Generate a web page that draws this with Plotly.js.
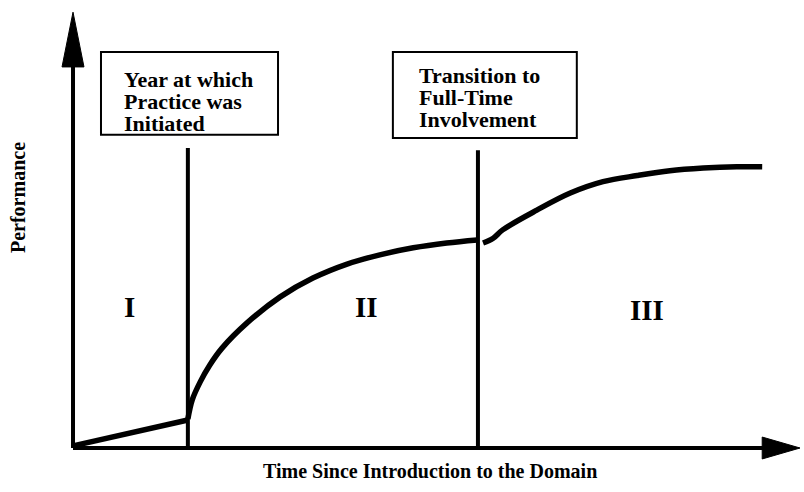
<!DOCTYPE html>
<html>
<head>
<meta charset="utf-8">
<script src="https://cdn.plot.ly/plotly-3.0.1.min.js"></script>
<style>html,body{margin:0;padding:0;background:#fff}#chart{width:804px;height:492px}</style>
</head>
<body>
<div id="chart"></div>
<script>
// Phase I: before practice initiated
var timeI = [0, 1.58];
var perfI = [0.05, 0.64];
// Phase II: practice until full-time involvement
var timeII = [1.58, 1.64, 1.75, 1.88, 2.05, 2.39, 2.85, 3.30, 3.77, 4.22, 4.68, 5.14, 5.56];
var perfII = [0.66, 1.10, 1.51, 1.89, 2.28, 2.85, 3.45, 3.88, 4.20, 4.41, 4.57, 4.68, 4.75];
// Phase III: full-time involvement
var timeIII = [5.64, 5.78, 5.91, 6.38, 6.84, 7.29, 7.76, 8.21, 8.67, 9.13, 9.48];
var perfIII = [4.68, 4.79, 4.98, 5.43, 5.82, 6.08, 6.22, 6.33, 6.39, 6.42, 6.42];

// Transition markers
var transitionTimes = [1.58, 5.57];
var transitionLabels = [
  ["Year at which", "Practice was", "Initiated"],
  ["Transition to", "Full-Time", "Involvement"]
];
var phaseLabels = ["I", "II", "III"];
var phaseX = [0.78, 4.04, 7.90];
var phaseY = [3.22, 3.22, 3.15];

var xTitle = "Time Since Introduction to the Domain";
var yTitle = "Performance";

var serif = "Liberation Serif, Times New Roman, serif";
var lineStyle = {color: "#000", width: 5.5};

var traces = [
  {x: timeI, y: perfI, mode: "lines", line: lineStyle, hoverinfo: "skip"},
  {x: timeII, y: perfII, mode: "lines", line: Object.assign({shape: "spline", smoothing: 1}, lineStyle), hoverinfo: "skip"},
  {x: timeIII, y: perfIII, mode: "lines", line: Object.assign({shape: "spline", smoothing: 1}, lineStyle), hoverinfo: "skip"}
];

var shapes = [
  // axes
  {type: "line", x0: 0, y0: 0, x1: 0, y1: 8.9, line: {color: "#000", width: 4}},
  {type: "line", x0: 0, y0: 0, x1: 9.6, y1: 0, line: {color: "#000", width: 4}},
  // arrow heads
  {type: "path", path: "M -0.151 8.70 L 0 9.95 L 0.151 8.70 Z", fillcolor: "#000", line: {color: "#000", width: 1}},
  {type: "path", path: "M 9.48 -0.25 L 10 0 L 9.48 0.25 Z", fillcolor: "#000", line: {color: "#000", width: 1}},
  // transition lines
  {type: "line", x0: transitionTimes[0], y0: 0, x1: transitionTimes[0], y1: 6.85, line: {color: "#000", width: 4}},
  {type: "line", x0: transitionTimes[1], y0: 0, x1: transitionTimes[1], y1: 6.80, line: {color: "#000", width: 4}},
  // label boxes
  {type: "rect", x0: 0.385, x1: 2.82, y0: 7.15, y1: 9.04, line: {color: "#000", width: 2}},
  {type: "rect", x0: 4.40, x1: 6.93, y0: 7.08, y1: 9.04, line: {color: "#000", width: 2}}
];

var annotations = [];
var boxTextX = [0.67, 4.73];
var boxTextTop = [8.42, 8.50];
var lineStep = 0.50;
transitionLabels.forEach(function (lines, b) {
  lines.forEach(function (t, i) {
    annotations.push({
      x: boxTextX[b], y: boxTextTop[b] - i * lineStep, xref: "x", yref: "y",
      text: "<b>" + t + "</b>", showarrow: false, xanchor: "left", yanchor: "middle",
      font: {family: serif, size: 22, color: "#000"}
    });
  });
});
phaseLabels.forEach(function (t, i) {
  annotations.push({
    x: phaseX[i], y: phaseY[i], xref: "x", yref: "y", text: "<b>" + t + "</b>", showarrow: false,
    xanchor: "center", yanchor: "middle",
    font: {family: serif, size: 29, color: "#000"}
  });
});
annotations.push({
  x: 4.91, y: -0.003, xref: "x", yref: "paper", text: "<b>" + xTitle + "</b>", showarrow: false,
  xanchor: "center", yanchor: "middle", font: {family: serif, size: 20, color: "#000"}
});
annotations.push({
  x: -0.0288, y: 5.73, xref: "paper", yref: "y", text: "<b>" + yTitle + "</b>", showarrow: false,
  textangle: -90, xanchor: "center", yanchor: "middle", font: {family: serif, size: 20, color: "#000"}
});

var layout = {
  width: 804, height: 492,
  margin: {l: 40, r: 0, t: 0, b: 22, autoexpand: false},
  paper_bgcolor: "#fff", plot_bgcolor: "#fff",
  showlegend: false,
  xaxis: {range: [-0.454, 10.055], visible: false, fixedrange: true},
  yaxis: {range: [-0.502, 10.228], visible: false, fixedrange: true},
  shapes: shapes,
  annotations: annotations
};

Plotly.newPlot("chart", traces, layout, {staticPlot: true, displayModeBar: false});
</script>
</body>
</html>
